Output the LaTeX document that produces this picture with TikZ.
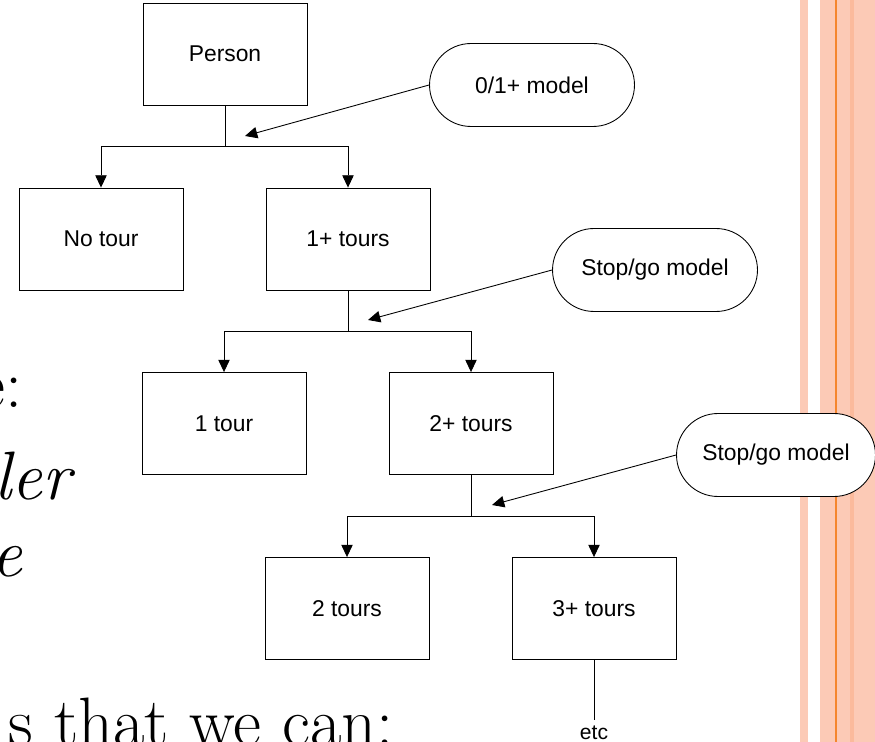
\documentclass[tikz,border=0pt]{standalone}
\usepackage{fontspec}
\newfontfamily\chartfont{Liberation Sans}
\usetikzlibrary{arrows.meta, shapes.misc}
\definecolor{slidepeach}{HTML}{FCCAB6}
\definecolor{slidepeachdark}{HTML}{FBBA9C}
\definecolor{slideorange}{HTML}{F5862E}
\tikzstyle{stage}=[draw, fill=white, line width=0.5pt, minimum width=3.28cm, minimum height=2.04cm, inner sep=0, font=\chartfont\fontsize{13}{15}\selectfont]
\tikzstyle{choice}=[draw, fill=white, line width=0.5pt, rounded rectangle, minimum width=4.1cm, minimum height=1.66cm, inner sep=0, font=\chartfont\fontsize{13}{15}\selectfont]
\tikzstyle{flow}=[line width=0.5pt, -{Triangle[length=7pt, width=6.5pt]}]
\tikzstyle{slidetext}=[inner sep=0, font=\fontsize{39}{46}\selectfont]

\begin{document}
\begin{tikzpicture}[x=0.02cm, y=-0.02cm]

\useasboundingbox (0, 0) rectangle (875, 742);
\clip (0, 0) rectangle (875, 742);

% slide background stripes
\fill [slidepeach] (800, 0) rectangle (808, 742);
\fill [slidepeach] (820, 0) rectangle (875, 742);
\fill [slidepeachdark] (850, 0) rectangle (854, 742);
\draw [slideorange, line width=1pt] (836, 0) -- (836, 742);

% slide text behind the chart
\node [slidetext, anchor=base east] (line1) at (23, 408) {e:};
\node [slidetext, anchor=base east] (line2) at (71, 500) {\itshape ler};
\node [slidetext, anchor=base east] (line3) at (23, 577) {\itshape e};
\node [slidetext, anchor=base east] (line4) at (394, 745) {s that we can:};

\node [stage] (person)    at (225, 54)    {Person};
\node [stage] (notour)    at (101, 239)   {No tour};
\node [stage] (oneplus)   at (348, 239)   {1+ tours};
\node [stage] (one)       at (224, 423.5) {1 tour};
\node [stage] (twoplus)   at (471, 423.5) {2+ tours};
\node [stage] (two)       at (347, 608.5) {2 tours};
\node [stage] (threeplus) at (594, 608.5) {3+ tours};

\node [choice] (model1) at (532, 85)  {0/1+ model};
\node [choice] (model2) at (655, 270) {Stop/go model};
\node [choice, minimum width=3.98cm] (model3) at (776, 455) {Stop/go model};

\node [font=\chartfont\fontsize{12}{14}\selectfont] (etc) at (594, 733) {etc};

\coordinate (split1) at (225, 146);
\coordinate (split2) at (348, 331);
\coordinate (split3) at (471, 516);

\coordinate (hit1) at (245, 136);
\coordinate (hit2) at (368, 320);
\coordinate (hit3) at (492, 505);

\draw [line width=0.5pt] (person) -- (split1);
\draw [flow] (split1) -| (notour);
\draw [flow] (split1) -| (oneplus);

\draw [line width=0.5pt] (oneplus) -- (split2);
\draw [flow] (split2) -| (one);
\draw [flow] (split2) -| (twoplus);

\draw [line width=0.5pt] (twoplus) -- (split3);
\draw [flow] (split3) -| (two);
\draw [flow] (split3) -| (threeplus);

\draw [line width=0.4pt] (threeplus) -- (etc);

\draw [flow] (model1.west) -- (hit1);
\draw [flow] (model2.west) -- (hit2);
\draw [flow] (model3.west) -- (hit3);

\end{tikzpicture}
\end{document}
